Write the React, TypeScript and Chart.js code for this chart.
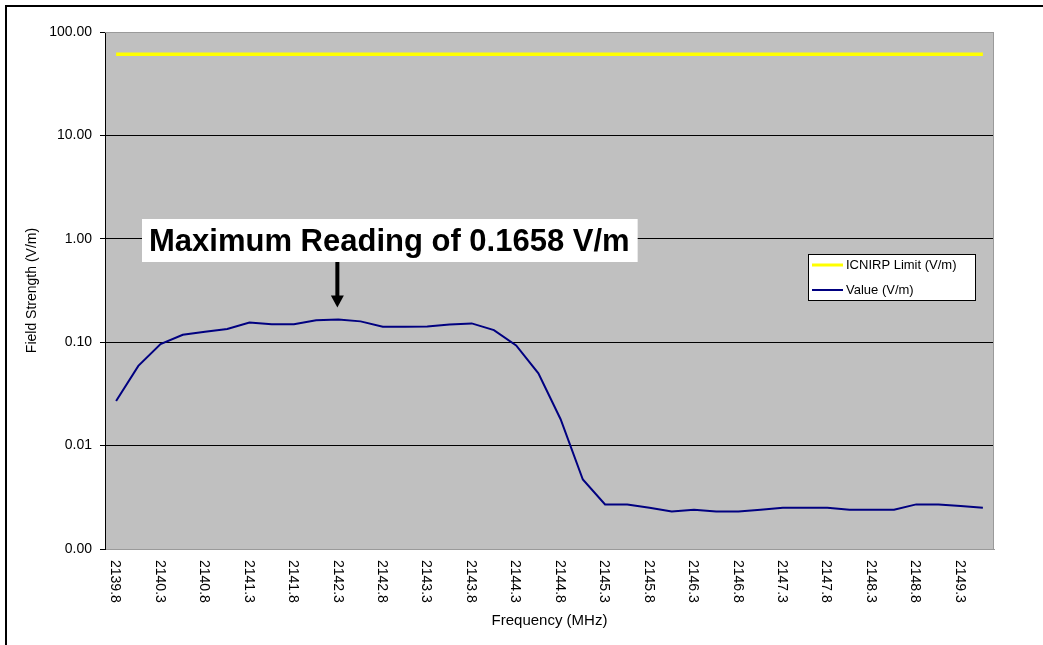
import { useEffect, useRef } from "react";
import { Chart, registerables } from "chart.js";

Chart.register(...registerables);

// Frequency categories (MHz)
const frequencies = [
  2139.75, 2140.0, 2140.25, 2140.5, 2140.75, 2141.0, 2141.25, 2141.5, 2141.75, 2142.0,
  2142.25, 2142.5, 2142.75, 2143.0, 2143.25, 2143.5, 2143.75, 2144.0, 2144.25, 2144.5,
  2144.75, 2145.0, 2145.25, 2145.5, 2145.75, 2146.0, 2146.25, 2146.5, 2146.75, 2147.0,
  2147.25, 2147.5, 2147.75, 2148.0, 2148.25, 2148.5, 2148.75, 2149.0, 2149.25, 2149.5,
];

// ICNIRP limit (V/m)
const limitValues = [
  61, 61, 61, 61, 61, 61, 61, 61, 61, 61,
  61, 61, 61, 61, 61, 61, 61, 61, 61, 61,
  61, 61, 61, 61, 61, 61, 61, 61, 61, 61,
  61, 61, 61, 61, 61, 61, 61, 61, 61, 61,
];

// Measured field strength (V/m)
const measuredValues = [
  0.027, 0.059, 0.096, 0.118, 0.126, 0.134, 0.155, 0.149, 0.149, 0.163,
  0.1658, 0.159, 0.141, 0.141, 0.142, 0.148, 0.152, 0.131, 0.093, 0.05,
  0.018, 0.0047, 0.0027, 0.0027, 0.0025, 0.0023, 0.0024, 0.0023, 0.0023, 0.0024,
  0.0025, 0.0025, 0.0025, 0.0024, 0.0024, 0.0024, 0.0027, 0.0027, 0.0026, 0.0025,
];

const yTickValues = [0.001, 0.01, 0.1, 1, 10, 100];
const seriesNames = ["ICNIRP Limit (V/m)", "Value (V/m)"];
const annotationText = "Maximum Reading of 0.1658 V/m";
const peakIndex = 10;

const FONT = "'Liberation Sans', Arial, Helvetica, sans-serif";

export default function App() {
  const ref = useRef<HTMLCanvasElement>(null);

  useEffect(() => {
    const canvas = ref.current;
    if (!canvas) return;

    const customPlugin = {
      id: "customDraw",
      beforeDraw(chart: any) {
        const { ctx, chartArea: a } = chart;
        ctx.save();
        ctx.fillStyle = "#ffffff";
        ctx.fillRect(0, 0, chart.width, chart.height);
        ctx.fillStyle = "#000000";
        ctx.fillRect(5, 5, chart.width, 2);
        ctx.fillRect(5, 5, 2, chart.height);
        ctx.fillStyle = "#c0c0c0";
        ctx.fillRect(a.left, a.top, a.right - a.left, a.bottom - a.top);
        ctx.restore();
      },
      beforeDatasetsDraw(chart: any) {
        const { ctx, chartArea: a } = chart;
        ctx.save();
        ctx.strokeStyle = "#9a9a9a";
        ctx.lineWidth = 1;
        ctx.beginPath();
        ctx.moveTo(a.left, a.top + 0.5);
        ctx.lineTo(a.right - 0.5, a.top + 0.5);
        ctx.lineTo(a.right - 0.5, a.bottom + 0.5);
        ctx.lineTo(a.left + 1, a.bottom + 0.5);
        ctx.stroke();
        ctx.restore();
      },
      afterDraw(chart: any) {
        const { ctx, chartArea: a } = chart;
        const xs = chart.scales.x;
        const ys = chart.scales.y;
        ctx.save();

        // X tick labels rotated clockwise
        ctx.fillStyle = "#000000";
        ctx.font = `14px ${FONT}`;
        ctx.textAlign = "left";
        ctx.textBaseline = "middle";
        frequencies.forEach((f, i) => {
          if (i % 2 !== 0) return;
          const x = xs.getPixelForValue(i) - 1;
          ctx.save();
          ctx.translate(x, a.bottom + 11);
          ctx.rotate(Math.PI / 2);
          ctx.fillText(f.toFixed(1), 0, 0);
          ctx.restore();
        });

        // Annotation box
        ctx.font = `bold 31px ${FONT}`;
        const tw = ctx.measureText(annotationText).width;
        const boxL = a.left + 37;
        const boxT = a.top + 187;
        const boxH = 43;
        ctx.fillStyle = "#ffffff";
        ctx.fillRect(boxL, boxT, tw + 15, boxH);
        ctx.fillStyle = "#000000";
        ctx.textBaseline = "alphabetic";
        ctx.fillText(annotationText, boxL + 7, boxT + 32);

        // Arrow to peak
        const ax = xs.getPixelForValue(peakIndex) - 1;
        const tipY = ys.getPixelForValue(measuredValues[peakIndex]) - 12;
        ctx.fillRect(ax - 2, boxT + boxH, 4, tipY - 11 - (boxT + boxH));
        ctx.beginPath();
        ctx.moveTo(ax - 6.5, tipY - 12);
        ctx.lineTo(ax + 6.5, tipY - 12);
        ctx.lineTo(ax, tipY);
        ctx.closePath();
        ctx.fill();

        // Legend
        const lgR = a.right - 18;
        const lgL = lgR - 168;
        const lgT = a.top + 222;
        const lgH = 47;
        ctx.fillStyle = "#ffffff";
        ctx.fillRect(lgL, lgT, lgR - lgL, lgH);
        ctx.strokeStyle = "#000000";
        ctx.lineWidth = 1;
        ctx.strokeRect(lgL + 0.5, lgT + 0.5, lgR - lgL - 1, lgH - 1);
        ctx.font = `13px ${FONT}`;
        ctx.textBaseline = "middle";
        chart.data.datasets.forEach((ds: any, i: number) => {
          const y = lgT + 11 + i * 25;
          ctx.strokeStyle = ds.borderColor;
          ctx.lineWidth = i === 0 ? 3 : 2;
          ctx.beginPath();
          ctx.moveTo(lgL + 4, y);
          ctx.lineTo(lgL + 35, y);
          ctx.stroke();
          ctx.fillStyle = "#000000";
          ctx.fillText(ds.label, lgL + 38, y);
        });

        ctx.restore();
      },
    };

    const chart = new Chart(canvas, {
      type: "line",
      data: {
        labels: frequencies.map((f) => f.toFixed(1)),
        datasets: [
          {
            label: seriesNames[0],
            data: limitValues,
            borderColor: "#ffff00",
            borderWidth: 3.5,
            pointRadius: 0,
            tension: 0,
          },
          {
            label: seriesNames[1],
            data: measuredValues,
            borderColor: "#000080",
            borderWidth: 2,
            pointRadius: 0,
            tension: 0,
          },
        ],
      },
      options: {
        responsive: false,
        animation: false,
        devicePixelRatio: 1,
        events: [],
        layout: { padding: { left: 0, top: 32, right: 49, bottom: 0 } },
        plugins: {
          legend: { display: false },
          tooltip: { enabled: false },
        },
        scales: {
          x: {
            type: "category",
            offset: true,
            grid: { display: false },
            border: { display: true, color: "#9a9a9a" },
            ticks: { display: false },
            title: {
              display: true,
              text: "Frequency (MHz)",
              color: "#000000",
              font: { family: FONT, size: 15 },
              padding: { top: 0, bottom: 15 },
            },
            afterFit(scale: any) {
              scale.height = 96;
            },
          },
          y: {
            type: "logarithmic",
            min: 0.001,
            max: 100,
            afterBuildTicks(scale: any) {
              scale.ticks = yTickValues.map((v) => ({ value: v }));
            },
            afterFit(scale: any) {
              scale.width = 105;
            },
            ticks: {
              color: "#000000",
              font: { family: FONT, size: 14 },
              padding: 8,
              autoSkip: false,
              callback: (v: any) => Number(v).toFixed(2),
            },
            grid: {
              color: (c: any) =>
                c.tick && (c.tick.value === 100 || c.tick.value === 0.001) ? "#9a9a9a" : "#000000",
              tickColor: "#000000",
              tickLength: 5,
              lineWidth: 1,
            },
            border: { display: true, color: "#000000", width: 1 },
            title: {
              display: true,
              text: "Field Strength (V/m)",
              color: "#000000",
              font: { family: FONT, size: 14 },
              padding: { top: 24, bottom: 0 },
            },
          },
        },
      },
      plugins: [customPlugin],
    } as any);

    return () => chart.destroy();
  }, []);

  return (
    <div style={{ position: "fixed", left: 0, top: 0, width: 1043, height: 645, background: "#fff" }}>
      <canvas ref={ref} width={1043} height={645} style={{ width: 1043, height: 645, display: "block" }} />
    </div>
  );
}
